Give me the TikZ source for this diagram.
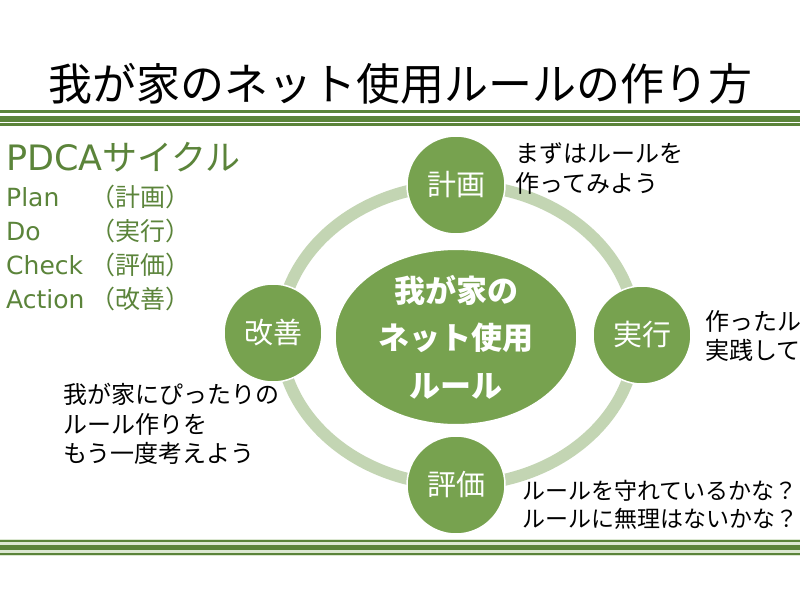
\documentclass[tikz,border=0pt]{standalone}
\usepackage{fontspec}
\setmainfont{Noto Sans CJK JP}
\newfontfamily\latinfont{DejaVu Sans}
\usetikzlibrary{shapes.geometric}
\definecolor{leaf}{HTML}{77A24F}
\definecolor{pale}{HTML}{C3D5B3}
\definecolor{rulegreen}{HTML}{5B843A}
\definecolor{tint}{HTML}{DCE8D2}
\tikzset{
  phase/.style={circle, fill=leaf, draw=white, line width=1.5pt, minimum size=98pt, inner sep=0pt, text=white, font=\fontsize{29}{29}\selectfont},
  hub/.style={ellipse, fill=leaf, draw=white, line width=1.5pt, minimum width=242pt, minimum height=160pt, inner sep=0pt, text=white, align=center, font=\fontsize{31}{47.5}\selectfont\bfseries},
  note/.style={anchor=west, align=left, inner sep=0pt, font=\fontsize{24}{29.5}\selectfont},
  band/.style={rulegreen, line width=#1}
}
\begin{document}
\begin{tikzpicture}[x=1pt, y=-1pt]
    \useasboundingbox[fill=white] (0,0) rectangle (800,600);
    \node (title) at (400,84) {\fontsize{44}{44}\selectfont 我が家のネット使用ルールの作り方};
    \draw[band=3pt] (0,111.5) -- (800,111.5);
    \draw[band=6pt] (0,118.5) -- (800,118.5);
    \draw[band=2.5pt] (0,124.5) -- (800,124.5);
    \fill[tint] (0,539) rectangle (800,556);
    \draw[band=2.5pt] (0,541) -- (800,541);
    \draw[band=5pt] (0,547.5) -- (800,547.5);
    \draw[band=2pt] (0,553.5) -- (800,553.5);
    \node[anchor=west, inner sep=0pt, text=rulegreen, font=\fontsize{35}{35}\selectfont] (pdca) at (6,157) {{\latinfont PDCA}サイクル};
    \node[anchor=west, inner sep=0pt, align=left, text=rulegreen, font=\fontsize{25}{34}\selectfont] (steps) at (6,248)
        {{\latinfont\makebox[84pt][l]{Plan}}（計画）\\
         {\latinfont\makebox[84pt][l]{Do}}（実行）\\
         {\latinfont\makebox[84pt][l]{Check}}（評価）\\
         {\latinfont\makebox[84pt][l]{Action}}（改善）};
    \coordinate (orbit) at (458,335);
    \draw[pale, line width=12pt] (orbit) ellipse [x radius=178pt, y radius=150pt];
    \node[hub] (rules) at (456,337) {我が家の\\ネット使用\\ルール};
    \node[phase] (plan) at (456,185) {計画};
    \node[phase] (do) at (642,335) {実行};
    \node[phase] (check) at (456,485) {評価};
    \node[phase] (act) at (273,333) {改善};
    \node[note] (plannote) at (515,168.5) {まずはルールを\\作ってみよう};
    \node[note] (donote) at (705,336) {作ったル\\実践して};
    \node[note, font=\fontsize{23}{28.5}\selectfont] (checknote) at (522,505) {ルールを守れているかな？\\ルールに無理はないかな？};
    \node[note] (actnote) at (63,424) {我が家にぴったりの\\ルール作りを\\もう一度考えよう};
\end{tikzpicture}
\end{document}
